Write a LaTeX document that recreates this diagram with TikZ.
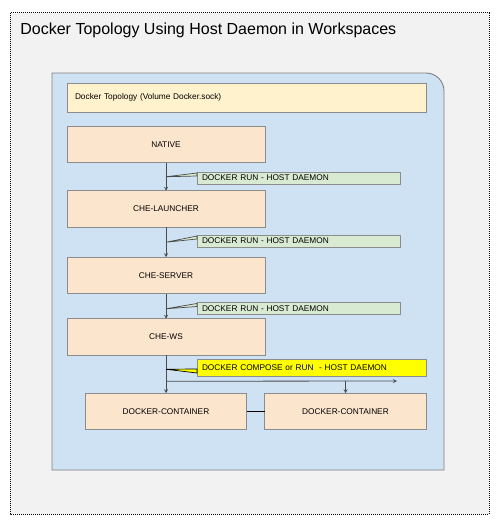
\documentclass[tikz,border=0pt]{standalone}
\usepackage{fontspec}
\setmainfont{Liberation Sans}
\usetikzlibrary{positioning,calc}
\definecolor{pagebg}{HTML}{F2F2F2}
\definecolor{bluebg}{HTML}{CFE2F3}
\definecolor{headfill}{HTML}{FFF2CC}
\definecolor{boxfill}{HTML}{FCE5CD}
\definecolor{tagfill}{HTML}{D9EAD3}
\definecolor{warnfill}{HTML}{FFFF00}
\definecolor{edgegray}{HTML}{8C8C8C}
\definecolor{linegray}{HTML}{4A4A4A}
\begin{document}
\begin{tikzpicture}[x=1pt,y=-1pt,>=stealth,thick,
    box/.style={rectangle,draw=edgegray,fill=boxfill,line width=0.7pt,minimum width=198pt,minimum height=36.5pt,inner sep=0pt,outer sep=0pt,font=\fontsize{8.3}{10}\selectfont},
    tag/.style={rectangle,draw=edgegray,fill=tagfill,line width=0.7pt,anchor=west,text width=193pt,align=left,inner xsep=5pt,inner ysep=0pt,minimum height=12pt,outer sep=0pt,font=\fontsize{8.3}{10}\selectfont},
    link/.style={draw=linegray,line width=0.8pt}]
    \useasboundingbox (0,0) rectangle (497,527);
    % frame
    \draw[fill=pagebg,line width=1pt,dash pattern=on 1pt off 1pt] (10,13) rectangle (489,514);
    \node[anchor=base west,inner sep=0pt,font=\fontsize{16}{19}\selectfont] (T) at (20,35) {Docker Topology Using Host Daemon in Workspaces};
    \draw[draw=gray,fill=bluebg,line width=0.9pt] (52,470) -- (52,73) [rounded corners=18pt] -- (444,73) [sharp corners] -- (444,470) -- cycle;
    \node[rectangle,draw=edgegray,fill=headfill,line width=0.7pt,anchor=north west,minimum width=359pt,minimum height=29pt,text width=343pt,align=left,inner xsep=8pt,outer sep=0pt,font=\fontsize{8.3}{10}\selectfont] (H) at (67,83) {Docker Topology (Volume Docker.sock)};
    % chain
    \node[box] (N) at (166,144.5) {NATIVE};
    \node[box,below=28pt of N] (L) {CHE-LAUNCHER};
    \node[box,below=30pt of L] (S) {CHE-SERVER};
    \node[box,below=25pt of S] (W) {CHE-WS};
    \node[box,minimum width=161pt,below=38pt of W] (C1) {DOCKER-CONTAINER};
    \node[box,minimum width=162pt,right=18pt of C1] (C2) {DOCKER-CONTAINER};
    % arrows
    \draw[link,->] (N) -- (L);
    \draw[link,->] (L) -- (S);
    \draw[link,->] (S) -- (W);
    \draw[link,->] (W) -- (C1);
    \coordinate (J) at ($(W.south)+(0,26)$);
    \coordinate (E) at (397,381);
    \draw[link,->] (J) -- (E);
    \draw[link,->] (J -| C2.north) -- (C2.north);
    \draw[line width=0.8pt] (C1) -- (C2);
    % labels
    \node[tag] (G1) at (197,178) {DOCKER RUN - HOST DAEMON};
    \node[tag] (G2) at (197,241) {DOCKER RUN - HOST DAEMON};
    \node[tag] (G3) at (197,308.5) {DOCKER RUN - HOST DAEMON};
    \node[tag,fill=warnfill,minimum height=17pt,text width=219pt] (Y) at (197,367.5) {DOCKER COMPOSE or RUN \ - HOST DAEMON};
    \coordinate (p1) at ($(N.south)!0.5!(L.north)$);
    \coordinate (p2) at ($(L.south)!0.5!(S.north)$);
    \coordinate (p3) at ($(S.south)!0.6!(W.north)$);
    \coordinate (p4) at ($(W.south)+(0,14)$);
    \draw[draw=linegray,fill=tagfill,line width=0.7pt] (p1) -- ($(G1.north west)+(0,1)$) -- ($(G1.north west)+(0,4)$) -- cycle;
    \draw[draw=linegray,fill=tagfill,line width=0.7pt] (p2) -- ($(G2.north west)+(0,1)$) -- ($(G2.north west)+(0,4)$) -- cycle;
    \draw[draw=linegray,fill=tagfill,line width=0.7pt] (p3) -- ($(G3.north west)+(0,1)$) -- ($(G3.north west)+(0,4)$) -- cycle;
    \draw[draw=black,fill=warnfill,line width=0.7pt] (p4) -- ($(Y.north west)+(0,10)$) -- ($(Y.north west)+(0,14)$) -- cycle;
\end{tikzpicture}
\end{document}
